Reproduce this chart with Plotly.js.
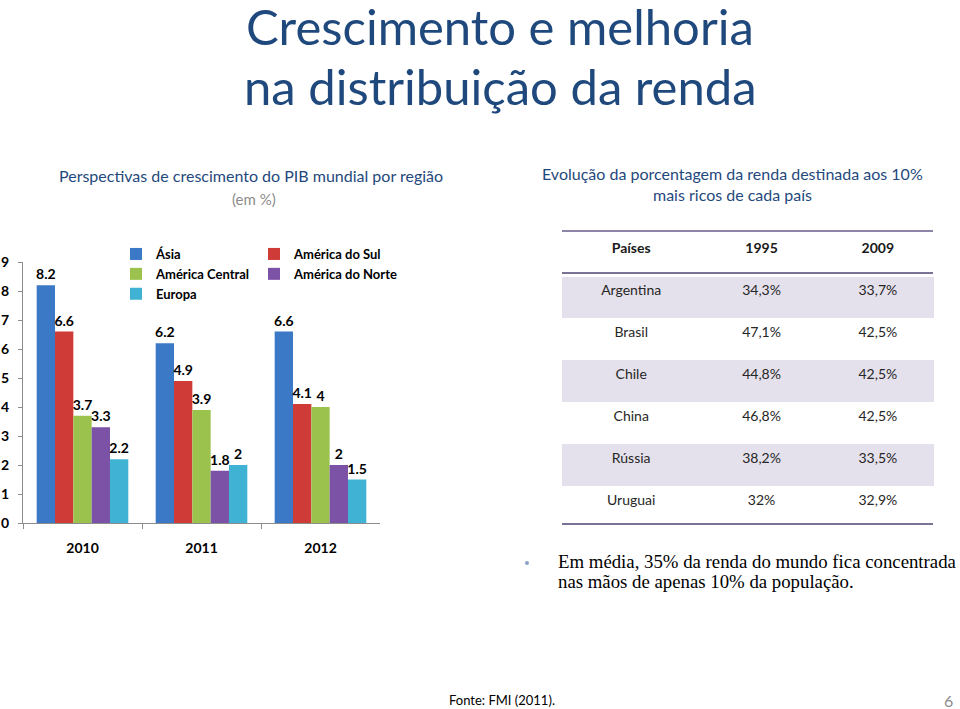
<!DOCTYPE html>
<html>
<head>
<meta charset="utf-8">
<script src="https://cdn.plot.ly/plotly-3.0.1.min.js"></script>
<style>html,body{margin:0;padding:0;background:#fff;}#chart{width:960px;height:709px;}</style>
</head>
<body>
<div id="chart"></div>
<script>
// ---- Data ----
const anos = ['2010', '2011', '2012'];
const asia = [8.2, 6.2, 6.6];
const amSul = [6.6, 4.9, 4.1];
const amCentral = [3.7, 3.9, 4.0];
const amNorte = [3.3, 1.8, 2.0];
const europa = [2.2, 2.0, 1.5];

const paises = ['Argentina', 'Brasil', 'Chile', 'China', 'Rússia', 'Uruguai'];
const pct1995 = ['34,3%', '47,1%', '44,8%', '46,8%', '38,2%', '32%'];
const pct2009 = ['33,7%', '42,5%', '42,5%', '42,5%', '33,5%', '32,9%'];
const tableHeader = ['Países', '1995', '2009'];

// ---- Layout helpers ----
const W = 960, H = 709;
const px = x => x / W;
const py = y => 1 - y / H;
const FONT = 'Lato, "Open Sans", sans-serif';

function barTrace(name, vals, color, legend) {
  return {
    type: 'bar', name: name, x: anos, y: vals,
    marker: {color: color},
    texttemplate: '%{y}', textposition: 'outside', cliponaxis: false,
    constraintext: 'none',
    textfont: {family: FONT, size: 14, color: '#000', weight: 'bold'},
    legend: legend, hoverinfo: 'x+y+name'
  };
}

const band = '#e5e1ec';
const rowFills = paises.map((_, i) => (i % 2 === 0 ? band : '#ffffff'));

const traces = [
  barTrace('Ásia', asia, '#3b78c6', 'legend'),
  barTrace('América do Sul', amSul, '#cf3b37', 'legend2'),
  barTrace('América Central', amCentral, '#9bc24c', 'legend'),
  barTrace('América do Norte', amNorte, '#7b52a6', 'legend2'),
  barTrace('Europa', europa, '#40b2d4', 'legend'),
  {
    type: 'table',
    domain: {x: [px(562), px(933)], y: [py(532), py(234)]},
    columnwidth: [138, 122, 110],
    header: {
      values: tableHeader,
      align: 'center', height: 42,
      fill: {color: '#ffffff'},
      line: {width: 1, color: '#ffffff'},
      font: {family: FONT, size: 14, color: '#1a1a1a', weight: 'bold'}
    },
    cells: {
      values: [paises, pct1995, pct2009],
      align: 'center', height: 42,
      fill: {color: [rowFills, rowFills, rowFills]},
      line: {width: 1, color: [rowFills, rowFills, rowFills]},
      font: {family: FONT, size: 14, color: '#262626'}
    }
  }
];

const titleColor = '#1f497d';
const layout = {
  width: W, height: H,
  margin: {l: 0, r: 0, t: 0, b: 0},
  paper_bgcolor: '#fff', plot_bgcolor: '#fff',
  font: {family: FONT},
  barmode: 'group', bargap: 0.23, bargroupgap: 0,
  showlegend: true,
  xaxis: {
    domain: [px(23), px(380)], type: 'category',
    showline: true, linecolor: '#8c8c8c', linewidth: 1,
    ticks: 'outside', tickson: 'boundaries', ticklen: 5, tickcolor: '#8c8c8c',
    ticklabelstandoff: 12,
    tickfont: {family: FONT, size: 14, color: '#000', weight: 'bold'},
    showgrid: false, zeroline: false, fixedrange: true
  },
  yaxis: {
    domain: [py(523), py(262)], range: [0, 9], dtick: 1,
    showline: true, linecolor: '#8c8c8c', linewidth: 1,
    ticks: 'outside', ticklen: 4, tickcolor: '#8c8c8c',
    ticklabelstandoff: 6,
    tickfont: {family: FONT, size: 14, color: '#000', weight: 'bold'},
    showgrid: false, zeroline: false, fixedrange: true
  },
  legend: {
    x: px(116), y: py(239), xanchor: 'left', yanchor: 'top',
    orientation: 'v', bgcolor: 'rgba(0,0,0,0)', tracegroupgap: 0,
    font: {family: FONT, size: 13, color: '#000', weight: 'bold'},
    itemclick: false, itemdoubleclick: false
  },
  legend2: {
    x: px(254), y: py(239), xanchor: 'left', yanchor: 'top',
    orientation: 'v', bgcolor: 'rgba(0,0,0,0)', tracegroupgap: 0,
    font: {family: FONT, size: 13, color: '#000', weight: 'bold'},
    itemclick: false, itemdoubleclick: false
  },
  shapes: [
    {type: 'line', xref: 'paper', yref: 'paper', x0: px(562), x1: px(933), y0: py(231), y1: py(231), line: {color: '#8d84a6', width: 2}},
    {type: 'line', xref: 'paper', yref: 'paper', x0: px(562), x1: px(933), y0: py(273), y1: py(273), line: {color: '#7c7296', width: 2}},
    {type: 'line', xref: 'paper', yref: 'paper', x0: px(562), x1: px(933), y0: py(524), y1: py(524), line: {color: '#7c7296', width: 2}},
    {type: 'circle', xref: 'paper', yref: 'paper', x0: px(525), x1: px(529), y0: py(561), y1: py(565), fillcolor: '#8aa3c4', line: {width: 0}}
  ],
  annotations: [
    {text: 'Crescimento e melhoria', x: px(500), y: py(26), xref: 'paper', yref: 'paper', xanchor: 'center', yanchor: 'middle', showarrow: false, borderpad: 0,
     font: {family: FONT, size: 49, color: titleColor}},
    {text: 'na distribuição da renda', x: px(500), y: py(86), xref: 'paper', yref: 'paper', xanchor: 'center', yanchor: 'middle', showarrow: false, borderpad: 0,
     font: {family: FONT, size: 49, color: titleColor}},
    {text: 'Perspectivas de crescimento do PIB mundial por região', x: px(251), y: py(175), xref: 'paper', yref: 'paper', xanchor: 'center', yanchor: 'middle', showarrow: false,
     font: {family: FONT, size: 16, color: titleColor}},
    {text: '(em %)', x: px(254), y: py(199), xref: 'paper', yref: 'paper', xanchor: 'center', yanchor: 'middle', showarrow: false,
     font: {family: FONT, size: 15, color: '#8c8c8c'}},
    {text: 'Evolução da porcentagem da renda destinada aos 10%', x: px(732), y: py(173), xref: 'paper', yref: 'paper', xanchor: 'center', yanchor: 'middle', showarrow: false,
     font: {family: FONT, size: 16, color: titleColor}},
    {text: 'mais ricos de cada país', x: px(732), y: py(194), xref: 'paper', yref: 'paper', xanchor: 'center', yanchor: 'middle', showarrow: false,
     font: {family: FONT, size: 16, color: titleColor}},
    {text: 'Em média, 35% da renda do mundo fica concentrada', x: px(556), y: py(561), xref: 'paper', yref: 'paper', xanchor: 'left', yanchor: 'middle', align: 'left', showarrow: false,
     font: {family: '"Liberation Serif", serif', size: 18.8, color: '#000'}},
    {text: 'nas mãos de apenas 10% da população.', x: px(556), y: py(581), xref: 'paper', yref: 'paper', xanchor: 'left', yanchor: 'middle', align: 'left', showarrow: false,
     font: {family: '"Liberation Serif", serif', size: 18.8, color: '#000'}},
    {text: 'Fonte: FMI (2011).', x: px(447), y: py(700), xref: 'paper', yref: 'paper', xanchor: 'left', yanchor: 'middle', showarrow: false,
     font: {family: FONT, size: 13, color: '#000'}},
    {text: '6', x: px(955), y: py(700), xref: 'paper', yref: 'paper', xanchor: 'right', yanchor: 'middle', showarrow: false,
     font: {family: FONT, size: 16, color: '#8c8c8c'}}
  ]
};

Plotly.newPlot('chart', traces, layout, {displayModeBar: false});
</script>
</body>
</html>
